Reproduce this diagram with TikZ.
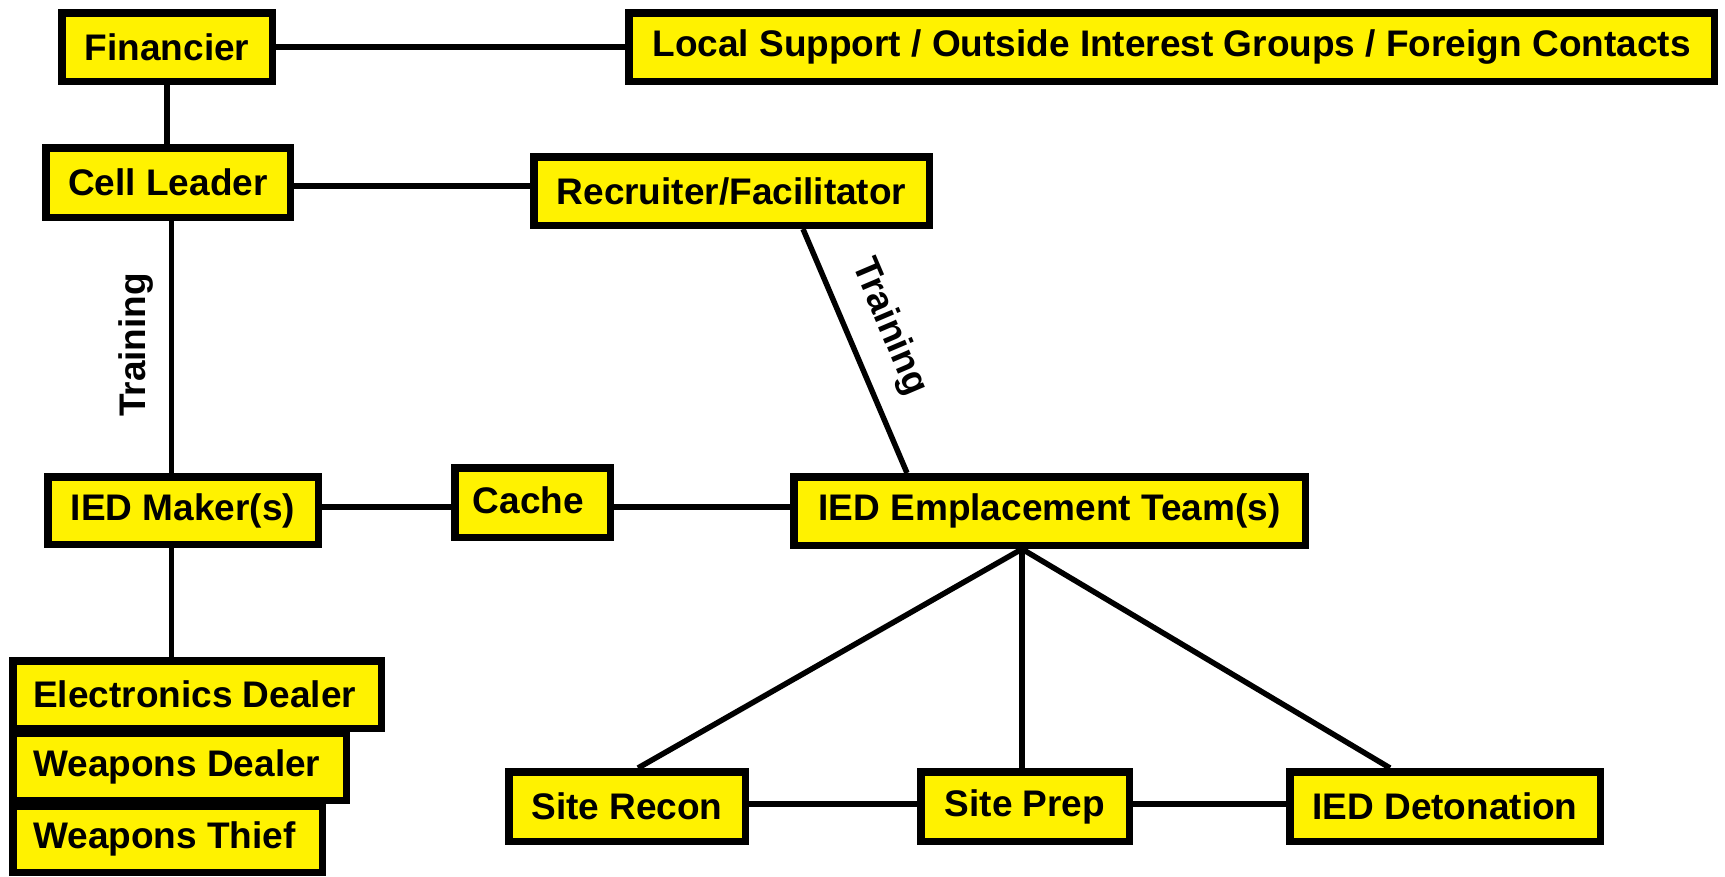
\documentclass[tikz,border=0pt]{standalone}
\usepackage{fontspec}
\setmainfont{Liberation Sans}
\usetikzlibrary{calc}
\begin{document}
\begin{tikzpicture}[x=1pt,y=-1pt,
  box/.style={draw=black, line width=7.5pt, fill=yellow, inner sep=0pt,
    font=\fontsize{37}{44}\selectfont\bfseries},
  lbl/.style={inner sep=0pt, font=\fontsize{37}{44}\selectfont\bfseries},
  link/.style={draw=black, line width=5.5pt}]
\useasboundingbox (0,0) rectangle (1725,876);

% boxes
\node[box, minimum width=210.5, minimum height=68.5] (fin) at (167,47) {Financier};
\node[box, minimum width=1085.5, minimum height=68.5] (loc) at (1171.5,47) {Local Support / Outside Interest Groups / Foreign Contacts};
\node[box, minimum width=244.5, minimum height=69.5] (cell) at (168,182.5) {Cell Leader};
\node[box, minimum width=395.5, minimum height=68.5] (rec) at (731.5,191) {Recruiter/Facilitator};
\node[box, minimum width=270.5, minimum height=67.5] (mak) at (183,510.5) {IED Maker(s)};
\node[box, minimum width=155.5, minimum height=69.5] (cac) at (532.5,502.5) {};
\node[lbl] at ($(cac)+(-4,-2)$) {Cache};
\node[box, minimum width=511.5, minimum height=68.5] (emp) at (1049.5,511) {IED Emplacement Team(s)};

% supplier stack
\node[box, minimum width=368.5, minimum height=67.5] (ele) at (197,694.5) {};
\node[box, minimum width=333.5, minimum height=67.5] (wd) at (179.5,766.5) {};
\node[box, minimum width=309.5, minimum height=66.5] (wt) at (167.5,839) {};
\node[lbl, anchor=west] at ($(ele.west)+(24,0)$) {Electronics Dealer};
\node[lbl, anchor=west] at ($(wd.west)+(24,0)$) {Weapons Dealer};
\node[lbl, anchor=west] at ($(wt.west)+(24,0)$) {Weapons Thief};

% emplacement tasks
\node[box, minimum width=236.5, minimum height=69.5] (sr) at (627,806.5) {Site Recon};
\node[box, minimum width=208.5, minimum height=69.5] (sp) at (1025,806.5) {Site Prep};
\node[box, minimum width=310.5, minimum height=69.5] (det) at (1445,806.5) {IED Detonation};

% connectors
\draw[link] (fin.east) -- (loc.west);
\coordinate (fx) at (167,0);
\draw[link] (fx |- fin.south) -- (fx |- cell.north);
\coordinate (c1) at ($(cell.east)+(0,3.5)$);
\draw[link] (c1) -- (c1 -| rec.west);
\coordinate (tx) at (171.5,0);
\draw[link] (tx |- cell.south) -- (tx |- mak.north);
\node[lbl, rotate=90] (t1) at (136,345) {Training};
\draw[link] (tx |- mak.south) -- (tx |- ele.north);
\coordinate (c2) at (0,507);
\draw[link] (c2 -| mak.east) -- (c2 -| cac.west);
\draw[link] (c2 -| cac.east) -- (c2 -| emp.west);
\coordinate (r1) at ($(rec.south)+(71.5,0)$);
\coordinate (e1) at ($(emp.north west)+(117,0)$);
\draw[link] (r1) -- (e1);
\node[lbl, rotate=-66.9] (t2) at (889,327) {Training};
\coordinate (fan) at ($(emp.south west)+(232,0)$);
\draw[link] (fan) -- ($(sr.north)+(11,0)$);
\draw[link] (fan) -- (fan |- sp.north);
\draw[link] (fan) -- ($(det.north)+(-55,0)$);
\coordinate (c3) at (0,804);
\draw[link] (c3 -| sr.east) -- (c3 -| sp.west);
\draw[link] (c3 -| sp.east) -- (c3 -| det.west);
\end{tikzpicture}
\end{document}
